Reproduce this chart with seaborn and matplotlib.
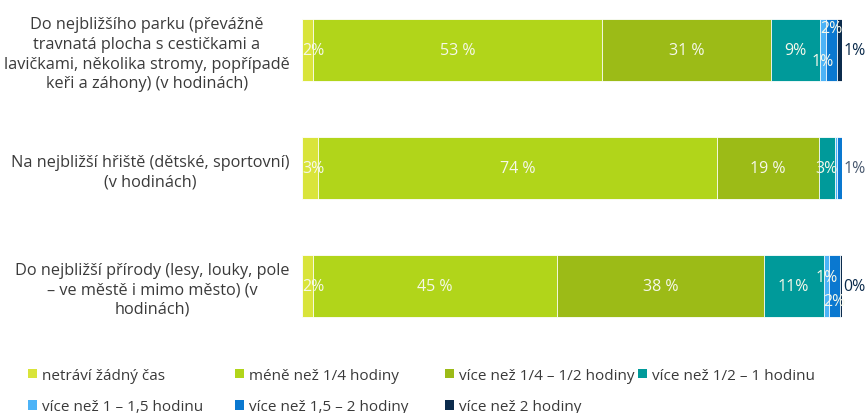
import numpy as np
import pandas as pd
import matplotlib
matplotlib.use("Agg")
import matplotlib.pyplot as plt
from matplotlib.patches import Patch
import seaborn as sns

# Data (podíly v %)
kategorie = [
    "Do nejbližšího parku (převážně\ntravnatá plocha s cestičkami a\nlavičkami, několika stromy, popřípadě\nkeři a záhony) (v hodinách)",
    "Na nejbližší hřiště (dětské, sportovní)\n(v hodinách)",
    "Do nejbližší přírody (lesy, louky, pole\n– ve městě i mimo město) (v\nhodinách)",
]
serie = [
    "netráví žádný čas",
    "méně než 1/4 hodiny",
    "více než 1/4 – 1/2 hodiny",
    "více než 1/2 – 1 hodinu",
    "více než 1 – 1,5 hodinu",
    "více než 1,5 – 2 hodiny",
    "více než 2 hodiny",
]
netravi      = [2, 3, 2]
mene_ctvrt   = [53, 74, 45]
ctvrt_pul    = [31, 19, 38]
pul_hodina   = [9, 3, 11]
hodina_15    = [1, 0.3, 1]
hodiny_15_2  = [2, 1, 2]
vice_2       = [1, 0, 0.4]

barvy = ["#d9e43a", "#b1d51a", "#9cbb17", "#009a9a", "#4cb3f7", "#0a78d0", "#0b2b4c"]

# umístění popisků: in / up / down / out / None
umisteni = [
    ["in", "in", "in", "in", "down", "up", "out"],
    ["in", "in", "in", "in", None, "out", None],
    ["in", "in", "in", "in", "up", "down", "out"],
]
posun = [(-0.19, 0.09), (0, 0), (-0.07, 0.13)]

TEXT = "#3a3a3a"
plt.rcParams.update({
    "font.family": ["Open Sans", "DejaVu Sans"],
    "text.color": TEXT,
})

hodnoty = np.array([netravi, mene_ctvrt, ctvrt_pul, pul_hodina,
                    hodina_15, hodiny_15_2, vice_2], dtype=float).T
procenta = hodnoty / hodnoty.sum(axis=1, keepdims=True) * 100
kumul = np.cumsum(procenta, axis=1)

fig = plt.figure(figsize=(8.66, 4.14), dpi=100)
W, H = 866, 414
top_px, bottom_px = -8, 345.5
ax = fig.add_axes([302 / W, 1 - bottom_px / H, 540 / W, (bottom_px - top_px) / H])

# stacked bars: kreslíme od konce, kumulativní délky
for j in range(len(serie) - 1, -1, -1):
    df = pd.DataFrame({"kat": kategorie, "hodnota": kumul[:, j]})
    sns.barplot(data=df, x="hodnota", y="kat", orient="h", color=barvy[j],
                saturation=1, width=0.525, edgecolor="white", linewidth=0.6, ax=ax)

ax.set_xlim(0, 100)
ax.set_ylim(2.5, -0.5)
ax.set_xlabel("")
ax.set_ylabel("")
ax.set_xticks([])
ax.tick_params(axis="y", length=0, pad=9)
ax.set_yticks(range(len(kategorie)))
ax.set_yticklabels(kategorie, multialignment="center", fontsize=11.7, color=TEXT,
                   linespacing=1.3)
sns.despine(ax=ax, left=True, bottom=True)

# popisky hodnot
for i in range(len(kategorie)):
    for j in range(len(serie)):
        misto = umisteni[i][j]
        if misto is None:
            continue
        v = hodnoty[i, j]
        txt = f"{round(v)} %" if v >= 15 else f"{round(v)}%"
        start = kumul[i, j] - procenta[i, j]
        stred = start + procenta[i, j] / 2
        if misto == "in":
            ha = "left" if j == 0 else "center"
            x = 0 if j == 0 else stred
            ax.text(x, i, txt, ha=ha, va="center", color="#f6f8ea",
                    fontsize=11.5)
        elif misto in ("up", "down"):
            dy = posun[i][0] if misto == "up" else posun[i][1]
            ax.text(stred, i + dy, txt, ha="center", va="center", color="#f6f8ea",
                    fontsize=11.5)
        else:
            barva = "#0b2b4c" if j == 6 else "#4a5a70"
            ax.text(100.3, i, txt, ha="left", va="center", color=barva, fontsize=11.5)

# legenda: 4 sloupce, řádky po sloupcích
handles = [Patch(facecolor=c, edgecolor="none") for c in barvy]
sloupce = [[0, 4], [1, 5], [2, 6], [3]]
sloupce_x = [28, 235, 445, 638]
for idx, xs in zip(sloupce, sloupce_x):
    fig.legend([handles[k] for k in idx], [serie[k] for k in idx],
               loc="upper left", bbox_to_anchor=(xs / W, 1 - 369 / H), ncol=1,
               frameon=False, fontsize=11, handlelength=0.6, handleheight=0.6,
               handletextpad=0.3, labelspacing=1.05,
               borderpad=0, borderaxespad=0)

fig.savefig("out.png", dpi=100, facecolor="white")
